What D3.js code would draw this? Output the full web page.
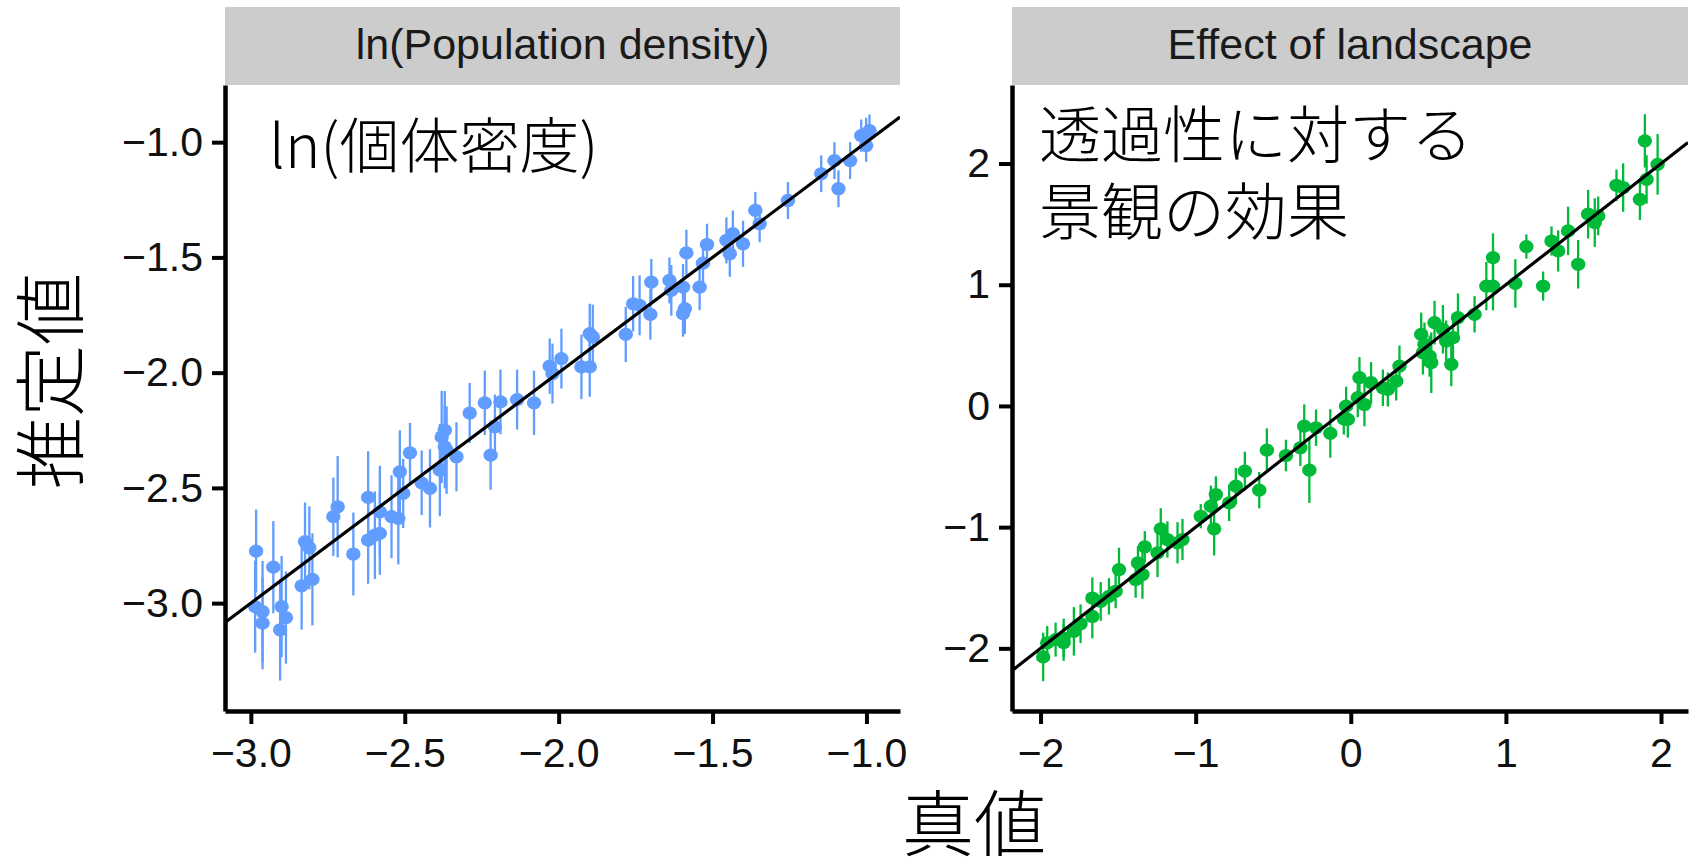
<!DOCTYPE html>
<html>
<head>
<meta charset="utf-8">
<script src="https://cdn.jsdelivr.net/npm/d3@7"></script>
<style>
  body { margin: 0; background: #ffffff; }
  svg { display: block; }
</style>
</head>
<body>
<svg id="chart" width="1695" height="859"></svg>
<script>
// ---- Panel 1: ln(population density) — true value, estimate, half-width of interval
const densityTrue = [-2.983, -2.927, -2.986, -2.962, -2.962, -2.900, -2.886, -2.905, -2.824, -2.810,
  -2.835, -2.800, -2.732, -2.718, -2.667, -2.619, -2.619, -2.597, -2.581, -2.581,
  -2.543, -2.521, -2.516, -2.505, -2.483, -2.445, -2.418, -2.386, -2.380, -2.370,
  -2.370, -2.364, -2.332, -2.289, -2.240, -2.207, -2.221, -2.189, -2.135, -2.080,
  -2.029, -2.020, -1.991, -1.926, -1.899, -1.899, -1.889, -1.782, -1.758, -1.737,
  -1.699, -1.702, -1.640, -1.634, -1.596, -1.585, -1.590, -1.596, -1.542, -1.531,
  -1.518, -1.455, -1.444, -1.434, -1.401, -1.361, -1.347, -1.255, -1.147, -1.104,
  -1.091, -1.053, -1.017, -1.001, -0.990, -1.001];
const densityEst = [-2.774, -2.844, -3.015, -3.037, -3.087, -3.015, -3.063, -3.116, -2.733, -2.760,
  -2.925, -2.897, -2.625, -2.582, -2.787, -2.541, -2.726, -2.705, -2.697, -2.604,
  -2.625, -2.632, -2.430, -2.524, -2.348, -2.478, -2.502, -2.423, -2.279, -2.250,
  -2.322, -2.336, -2.365, -2.175, -2.131, -2.235, -2.358, -2.127, -2.117, -2.131,
  -1.972, -2.004, -1.939, -1.975, -1.975, -1.831, -1.845, -1.834, -1.701, -1.708,
  -1.607, -1.747, -1.600, -1.643, -1.629, -1.480, -1.722, -1.744, -1.629, -1.525,
  -1.444, -1.426, -1.484, -1.397, -1.441, -1.296, -1.354, -1.253, -1.137, -1.080,
  -1.202, -1.080, -0.972, -0.964, -0.950, -1.015];
const densityErr = [0.18, 0.20, 0.20, 0.22, 0.20, 0.22, 0.20, 0.22, 0.17, 0.18,
  0.19, 0.20, 0.17, 0.22, 0.18, 0.20, 0.19, 0.19, 0.18, 0.20,
  0.18, 0.20, 0.18, 0.15, 0.13, 0.14, 0.17, 0.20, 0.20, 0.17,
  0.18, 0.19, 0.15, 0.13, 0.14, 0.14, 0.15, 0.14, 0.13, 0.14,
  0.12, 0.13, 0.13, 0.14, 0.13, 0.13, 0.14, 0.12, 0.12, 0.13,
  0.10, 0.11, 0.10, 0.11, 0.10, 0.10, 0.11, 0.10, 0.10, 0.10,
  0.09, 0.10, 0.10, 0.10, 0.10, 0.08, 0.08, 0.08, 0.08, 0.08,
  0.08, 0.08, 0.07, 0.07, 0.07, 0.07];

// ---- Panel 2: effect of landscape on permeability
const landTrue = [-1.983, -1.957, -1.903, -1.851, -1.851, -1.785, -1.742, -1.666, -1.666, -1.612,
  -1.559, -1.494, -1.516, -1.387, -1.372, -1.343, -1.328, -1.225, -1.246, -1.182,
  -1.117, -1.085, -0.967, -0.902, -0.870, -0.881, -0.784, -0.741, -0.683, -0.590,
  -0.541, -0.418, -0.325, -0.267, -0.300, -0.224, -0.132, -0.045, -0.019, -0.030,
  0.056, 0.045, 0.088, 0.131, 0.207, 0.239, 0.293, 0.314, 0.454, 0.465,
  0.508, 0.475, 0.519, 0.540, 0.594, 0.615, 0.648, 0.659, 0.691, 0.798,
  0.874, 0.917, 0.917, 1.061, 1.132, 1.240, 1.294, 1.337, 1.401, 1.466,
  1.530, 1.573, 1.595, 1.713, 1.756, 1.864, 1.896, 1.907, 1.978];
const landEst = [-2.071, -1.955, -1.928, -1.953, -1.915, -1.860, -1.797, -1.737, -1.585, -1.613,
  -1.571, -1.350, -1.529, -1.432, -1.295, -1.391, -1.163, -1.014, -1.212, -1.102,
  -1.129, -1.102, -0.910, -0.827, -0.731, -1.014, -0.800, -0.662, -0.538, -0.695,
  -0.365, -0.409, -0.345, -0.530, -0.167, -0.180, -0.227, -0.106, -0.111, -0.002,
  0.233, 0.068, 0.012, 0.192, 0.150, 0.136, 0.205, 0.329, 0.590, 0.439,
  0.411, 0.508, 0.357, 0.687, 0.632, 0.535, 0.343, 0.563, 0.728, 0.756,
  0.989, 0.989, 1.224, 1.011, 1.315, 0.989, 1.361, 1.279, 1.444, 1.169,
  1.582, 1.513, 1.568, 1.821, 1.802, 1.705, 2.187, 1.869, 1.993];
const landErr = [0.20, 0.14, 0.14, 0.15, 0.16, 0.20, 0.16, 0.18, 0.17, 0.16,
  0.15, 0.18, 0.14, 0.15, 0.14, 0.20, 0.13, 0.17, 0.20, 0.15,
  0.17, 0.17, 0.10, 0.17, 0.15, 0.22, 0.15, 0.15, 0.16, 0.15,
  0.18, 0.13, 0.15, 0.27, 0.18, 0.15, 0.20, 0.13, 0.15, 0.16,
  0.17, 0.16, 0.18, 0.17, 0.15, 0.14, 0.16, 0.17, 0.18, 0.18,
  0.17, 0.18, 0.25, 0.18, 0.20, 0.17, 0.18, 0.20, 0.20, 0.15,
  0.20, 0.20, 0.20, 0.20, 0.10, 0.12, 0.12, 0.17, 0.20, 0.20,
  0.20, 0.20, 0.16, 0.13, 0.20, 0.17, 0.22, 0.20, 0.25];

// ---- Tick values and labels
const densityTicks = [-3.0, -2.5, -2.0, -1.5, -1.0];
const landTicks = [-2, -1, 0, 1, 2];
const stripTitles = ["ln(Population density)", "Effect of landscape"];
const insetDensity = ["ln(個体密度)"];
const insetLand = ["透過性に対する", "景観の効果"];
const yTitle = "推定値";
const xTitle = "真値";

const svg = d3.select("#chart");
const latin = "'Liberation Sans', Arial, Helvetica, sans-serif";
const cjk = "'Noto Sans CJK JP', 'Noto Sans CJK SC', sans-serif";
const minus = s => s.replace(/-/g, "\u2212");

const panels = [
  {
    id: "density", x0: 225, x1: 900, y0: 85, y1: 711,
    xDomain: [-3.084, -0.891], yDomain: [-3.468, -0.752],
    truth: densityTrue, est: densityEst, err: densityErr,
    ticks: densityTicks, fmt: d3.format(".1f"),
    color: "#619CFF", strip: stripTitles[0],
    inset: insetDensity, insetX: 269, insetY: 168, insetSize: 60
  },
  {
    id: "landscape", x0: 1012, x1: 1688, y0: 85, y1: 711,
    xDomain: [-2.184, 2.174], yDomain: [-2.517, 2.648],
    truth: landTrue, est: landEst, err: landErr,
    ticks: landTicks, fmt: d3.format("d"),
    color: "#00BA38", strip: stripTitles[1],
    inset: insetLand, insetX: 1039, insetY: 158, insetSize: 62
  }
];

panels.forEach(p => {
  const x = d3.scaleLinear().domain(p.xDomain).range([p.x0, p.x1]);
  const y = d3.scaleLinear().domain(p.yDomain).range([p.y1, p.y0]);
  const g = svg.append("g").attr("class", "panel-" + p.id);

  // facet strip
  g.append("rect")
    .attr("x", p.x0).attr("y", 7)
    .attr("width", p.x1 - p.x0).attr("height", p.y0 - 7)
    .attr("fill", "#cccccc");
  g.append("text")
    .attr("x", (p.x0 + p.x1) / 2).attr("y", 59)
    .attr("text-anchor", "middle")
    .attr("font-family", latin).attr("font-size", 43)
    .attr("fill", "#1a1a1a")
    .text(p.strip);

  // clip for the data region
  g.append("clipPath").attr("id", "clip-" + p.id)
    .append("rect")
    .attr("x", p.x0).attr("y", p.y0)
    .attr("width", p.x1 - p.x0).attr("height", p.y1 - p.y0);

  const data = p.truth.map((t, i) => ({ t, e: p.est[i], s: p.err[i] }));
  const plot = g.append("g").attr("clip-path", `url(#clip-${p.id})`);

  // intervals
  plot.selectAll("line.err").data(data).join("line")
    .attr("class", "err")
    .attr("x1", d => x(d.t)).attr("x2", d => x(d.t))
    .attr("y1", d => y(d.e - d.s)).attr("y2", d => y(d.e + d.s))
    .attr("stroke", p.color).attr("stroke-width", 2.3);

  // point estimates
  plot.selectAll("ellipse.pt").data(data).join("ellipse")
    .attr("class", "pt")
    .attr("cx", d => x(d.t)).attr("cy", d => y(d.e))
    .attr("rx", 7.2).attr("ry", 6.6)
    .attr("fill", p.color);

  // 1:1 line
  plot.append("line")
    .attr("x1", x(p.xDomain[0])).attr("y1", y(p.xDomain[0]))
    .attr("x2", x(p.xDomain[1])).attr("y2", y(p.xDomain[1]))
    .attr("stroke", "#000").attr("stroke-width", 3.2);

  // axes
  const styleAxis = sel => {
    sel.select(".domain").attr("stroke", "#000").attr("stroke-width", 4.5);
    sel.selectAll(".tick line").attr("stroke", "#000").attr("stroke-width", 4);
    sel.selectAll(".tick text")
      .attr("font-family", latin).attr("font-size", 41).attr("fill", "#111");
  };

  const yAxis = d3.axisLeft(y).tickValues(p.ticks)
    .tickFormat(d => minus(p.fmt(d)))
    .tickSize(13).tickSizeOuter(0).tickPadding(9);
  g.append("g").attr("transform", `translate(${p.x0},0)`).call(yAxis).call(styleAxis);

  const xAxis = d3.axisBottom(x).tickValues(p.ticks)
    .tickFormat(d => minus(p.fmt(d)))
    .tickSize(13).tickSizeOuter(0).tickPadding(14);
  g.append("g").attr("transform", `translate(0,${p.y1})`).call(xAxis).call(styleAxis);

  // inset label
  const lab = g.append("text")
    .attr("font-family", cjk).attr("font-size", p.insetSize)
    .attr("font-weight", 300).attr("fill", "#000");
  p.inset.forEach((line, i) => {
    lab.append("tspan")
      .attr("x", p.insetX).attr("y", p.insetY + i * 77)
      .text(line);
  });
});

// shared axis titles
svg.append("text")
  .attr("transform", "translate(77,381) rotate(-90)")
  .attr("text-anchor", "middle")
  .attr("font-family", cjk).attr("font-size", 72)
  .attr("font-weight", 300).attr("fill", "#000")
  .text(yTitle);

svg.append("text")
  .attr("x", 974).attr("y", 850)
  .attr("text-anchor", "middle")
  .attr("font-family", cjk).attr("font-size", 72)
  .attr("font-weight", 300).attr("fill", "#000")
  .text(xTitle);
</script>
</body>
</html>
